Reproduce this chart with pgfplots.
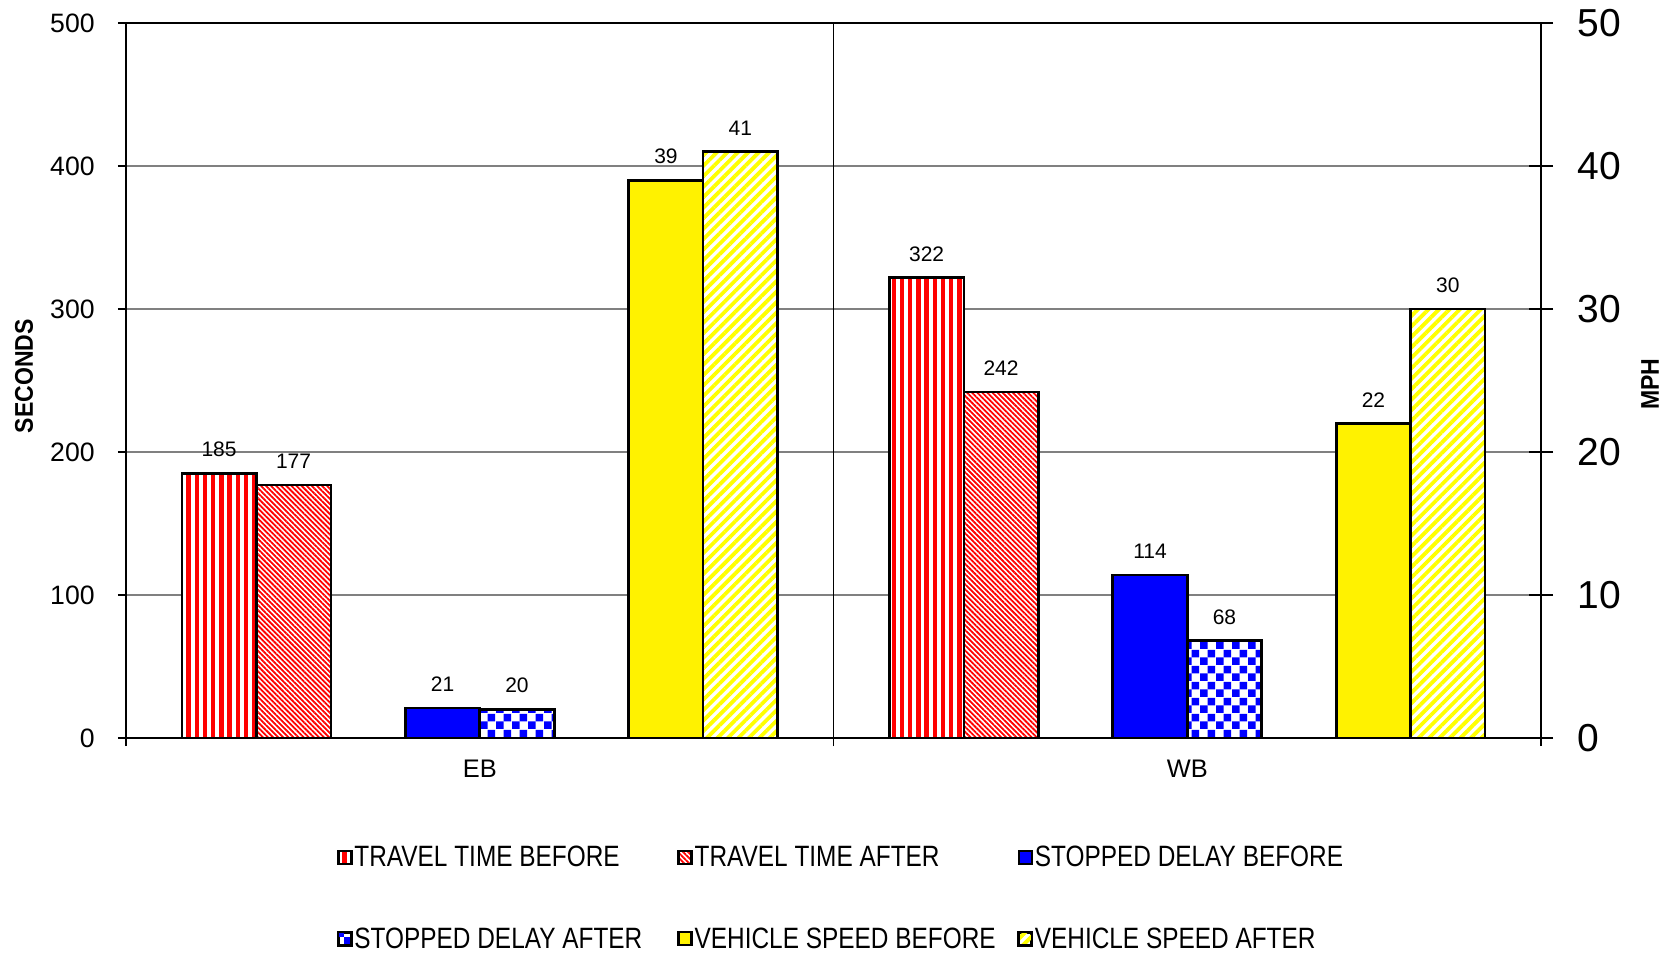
\documentclass[border=0pt]{standalone}
\usepackage{fontspec}
\setmainfont{Liberation Sans}
\newfontfamily\legendfont[FakeStretch=0.83]{Liberation Sans}
\newfontfamily\titlefont[FakeStretch=0.9]{Liberation Sans}
\usepackage{pgfplots}
\pgfplotsset{compat=1.18}
\usetikzlibrary{patterns,patterns.meta}

% blue/white checkerboard for "stopped delay after"
\tikzdeclarepattern{
  name=checker, type=uncolored,
  bottom left={(0pt,0pt)}, top right={(8pt,8pt)}, tile size={(8pt,8pt)},
  code={\fill (0pt,0pt) rectangle (4pt,4pt); \fill (4pt,4pt) rectangle (8pt,8pt);}
}

\pgfplotsset{
  sq/.style={draw=black, line width=1.3pt,
    legend image code/.code={\draw[##1, line width=1.1pt] (0pt,-2.9pt) rectangle (6.5pt,3.6pt);}},
  ttb/.style={sq, preaction={fill=white}, pattern={Lines[angle=90,distance=4.1pt,line width=2.2pt]}, pattern color=red},
  tta/.style={sq, preaction={fill=white}, pattern={Lines[angle=-45,distance=1.8pt,line width=0.9pt]}, pattern color=red},
  sdb/.style={sq, fill=blue},
  sda/.style={sq, preaction={fill=white}, pattern=checker, pattern color=blue},
  vsb/.style={sq, fill=yellow},
  vsa/.style={sq, preaction={fill=white}, pattern={Lines[angle=45,distance=3.7pt,line width=1.9pt]}, pattern color=yellow},
  common/.style={
    width=707.5pt, height=357.5pt, scale only axis,
    xmin=0, xmax=19, enlargelimits=false,
    ybar, bar width=1, bar shift=0pt,
    /pgf/number format/assume math mode=true,
    nodes near coords,
    every node near coord/.append style={font=\fontsize{10.5}{12}\selectfont, text=black, inner sep=0pt, yshift=7.5pt},
  },
}

\begin{document}
\begin{tikzpicture}
\useasboundingbox (-63pt,-107.5pt) rectangle (772.5pt,369pt);

\begin{axis}[common,
  ymin=0, ymax=500,
  ytick={0,100,...,500}, ytick pos=left,
  xtick={0,9.5,19}, xticklabels={}, xtick pos=left,
  tick align=outside, major tick length=4pt,
  tick style={black, line width=0.6pt},
  axis line style={black, line width=0.6pt},
  ymajorgrids, major grid style={gray, line width=0.7pt},
  extra x ticks={9.5}, extra x tick labels={},
  extra x tick style={grid=major, major grid style={black, line width=0.6pt}},
  yticklabel style={font=\fontsize{13.3}{16}\selectfont, inner sep=0pt, xshift=-11.5pt},
  ylabel={SECONDS},
  every axis y label/.style={at={(axis description cs:-0.0721,0.506)}, rotate=90, anchor=center,
    font=\titlefont\bfseries\fontsize{12.8}{15}\selectfont},
]
\addplot[ttb] coordinates {(1.25,185) (10.75,322)};
\addplot[tta] coordinates {(2.25,177) (11.75,242)};
\addplot[sdb] coordinates {(4.25,21) (13.75,114)};
\addplot[sda] coordinates {(5.25,20) (14.75,68)};
\end{axis}

\begin{axis}[common,
  ymin=0, ymax=50,
  axis y line*=right, axis x line*=bottom,
  x axis line style={draw=none},
  y axis line style={black, line width=0.6pt},
  xtick={4.75,14.25}, xticklabels={EB,WB},
  xtick style={draw=none},
  ytick={0,10,...,50},
  tick align=center, major tick length=12pt,
  ytick style={black, line width=0.6pt},
  xticklabel style={font=\fontsize{12.7}{15}\selectfont, inner sep=0pt, anchor=north, yshift=-5pt},
  yticklabel style={font=\fontsize{19.5}{22}\selectfont, inner sep=0pt, anchor=west, xshift=12pt},
  ylabel={MPH},
  every axis y label/.style={at={(axis description cs:1.077,0.495)}, rotate=90, anchor=center,
    font=\titlefont\bfseries\fontsize{12.8}{15}\selectfont},
  legend columns=3,
  legend style={draw=none, fill=none, at={(0.149,-0.151)}, anchor=north west,
    font=\legendfont\fontsize{14.7}{17}\selectfont, inner sep=0pt,
    nodes={inner sep=0pt},
    /tikz/every odd column/.append style={column sep=1pt},
    /tikz/row sep=28.9pt},
]
\addlegendimage{ttb}\addlegendentry{\makebox[161.5pt][l]{TRAVEL TIME BEFORE}}
\addlegendimage{tta}\addlegendentry{\makebox[161.5pt][l]{TRAVEL TIME AFTER}}
\addlegendimage{sdb}\addlegendentry{\makebox[161.5pt][l]{STOPPED DELAY BEFORE}}
\addlegendimage{sda}\addlegendentry{\makebox[161.5pt][l]{STOPPED DELAY AFTER}}
\addplot[vsb] coordinates {(7.25,39) (16.75,22)};
\addlegendentry{\makebox[161.5pt][l]{VEHICLE SPEED BEFORE}}
\addplot[vsa] coordinates {(8.25,41) (17.75,30)};
\addlegendentry{\makebox[161.5pt][l]{VEHICLE SPEED AFTER}}
\end{axis}
\end{tikzpicture}
\end{document}
